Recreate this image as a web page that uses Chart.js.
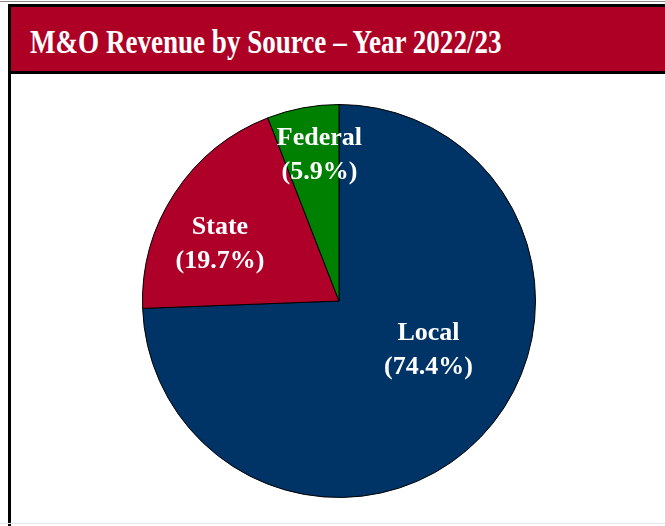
<!DOCTYPE html>
<html>
<head>
<meta charset="utf-8">
<script src="https://cdn.jsdelivr.net/npm/chart.js@4"></script>
<style>
  body { margin: 0; background: #fff; width: 665px; height: 526px; overflow: hidden; position: relative; }
  .topline { position: absolute; left: 0; top: 1px; width: 665px; height: 1px; background: #8a8a8a; }
  .bottomline { position: absolute; left: 0; top: 523px; width: 665px; height: 1px; background: #e4e4e4; }
  .frame { position: absolute; left: 8px; top: 4px; width: 670px; height: 530px; border-left: 3px solid #000; border-top: 3px solid #000; box-sizing: border-box; }
  .title { position: absolute; left: 11px; top: 7px; width: 660px; height: 64px; background: #ae0025; border-bottom: 3px solid #000; }
  .title span { position: absolute; left: 19px; top: 0; color: #fff; font-family: "Liberation Serif", serif; font-weight: bold; font-size: 33px; line-height: 70px;
                white-space: nowrap; transform: scaleX(0.82); transform-origin: left center; }
  #wrap { position: absolute; left: 142px; top: 104px; width: 394px; height: 394px; }
</style>
</head>
<body>
<div class="topline"></div>
<div class="frame"></div>
<div class="title"><span>M&amp;O Revenue by Source – Year 2022/23</span></div>
<div class="bottomline"></div>
<div id="wrap"><canvas id="graphique"></canvas></div>
<script>
const categories = ["Local", "State", "Federal"];
const pourcentages = [74.4, 19.7, 5.9];
const couleurs = ["#003466", "#af0029", "#008000"];

// position des étiquettes : fraction du rayon et décalage d'angle (degrés)
const rayonEtiquette = [0.52, 0.67, 0.75];
const decalageAngle = [-15, -8, 3];

const etiquettes = {
    id: "etiquettes",
    afterDatasetsDraw(chart) {
        const ctx = chart.ctx;
        const arcs = chart.getDatasetMeta(0).data;
        ctx.save();
        ctx.fillStyle = "#fff";
        ctx.font = "bold 26px 'Liberation Serif', serif";
        ctx.textAlign = "center";
        ctx.textBaseline = "middle";
        for (let i = 0; i < arcs.length; i++) {
            const arc = arcs[i];
            const milieu = (arc.startAngle + arc.endAngle) / 2 + decalageAngle[i] * Math.PI / 180;
            const r = arc.outerRadius * rayonEtiquette[i];
            const x = arc.x + Math.cos(milieu) * r;
            const y = arc.y + Math.sin(milieu) * r;
            ctx.fillText(categories[i], x, y - 17);
            ctx.fillText("(" + pourcentages[i].toFixed(1) + "%)", x, y + 17);
        }
        ctx.restore();
    }
};

new Chart(document.querySelector("#graphique"), {
    type: "pie",
    data: {
        labels: categories,
        datasets: [{
            data: pourcentages,
            backgroundColor: couleurs,
            borderColor: "#000",
            borderWidth: 1
        }]
    },
    options: {
        responsive: true,
        maintainAspectRatio: false,
        animation: false,
        plugins: { legend: { display: false }, tooltip: { enabled: false } }
    },
    plugins: [etiquettes]
});
</script>
</body>
</html>
